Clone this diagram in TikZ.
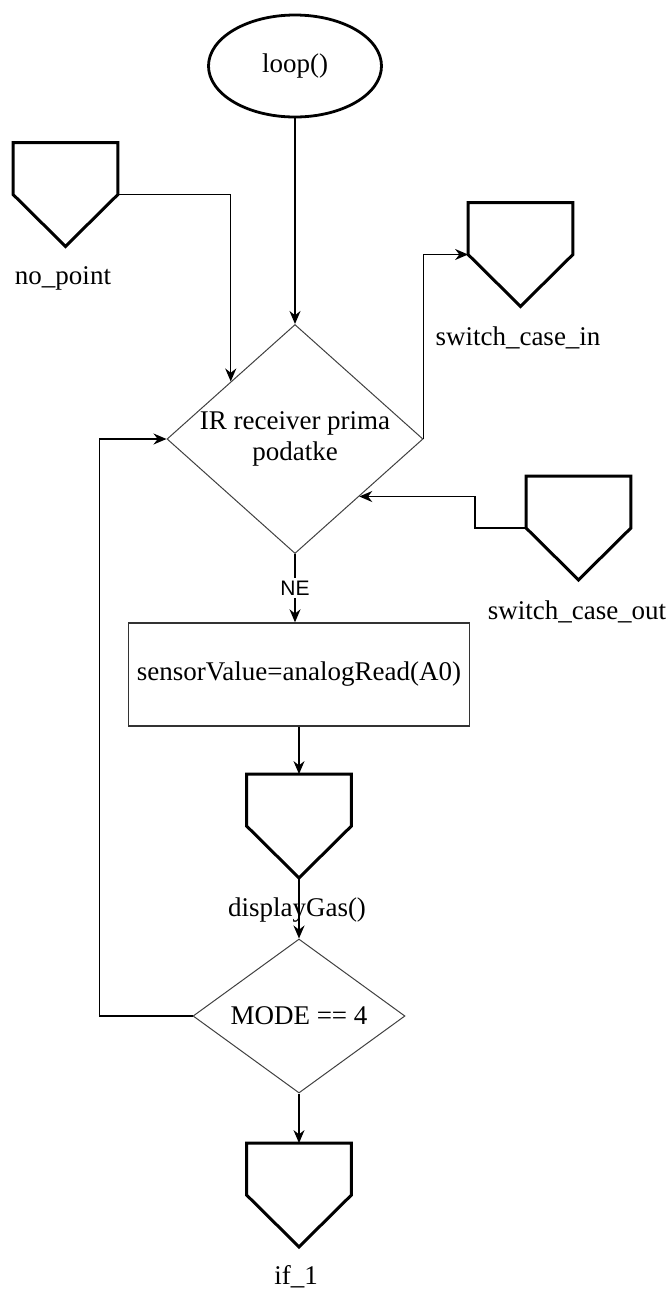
\documentclass[tikz,border=0pt]{standalone}
\usepackage{fontspec}
\setmainfont{Liberation Serif}
\newfontfamily\nefont{Liberation Sans}
\usetikzlibrary{shapes.geometric,arrows.meta}
\tikzset{>={Stealth[length=6.5pt,width=5.5pt]}}
\tikzstyle{terminal}=[ellipse,draw,line width=1.4pt,minimum width=86.5pt,minimum height=51pt,inner sep=0pt]
\tikzstyle{decision}=[diamond,draw=black!75,line width=0.5pt,inner sep=0pt,align=center]
\tikzstyle{process}=[rectangle,draw=black!80,line width=0.7pt,minimum width=170.5pt,minimum height=51.5pt,inner sep=0pt]
\tikzstyle{offpage}=[minimum width=52pt,minimum height=51.5pt,inner sep=0pt]
\tikzstyle{flow}=[->,line width=0.7pt]

\begin{document}
\begin{tikzpicture}[x=0.5pt,y=-0.5pt,font=\fontsize{13.5}{15.5}\selectfont]
\useasboundingbox (0,0) rectangle (672,1292);

\node[terminal] at (295, 66) (loop) {loop()};
\node[offpage] at (65.5, 194.5) (np) {};
\node at (63, 278) (nplab) {no\_point};
\node[offpage] at (520.5, 254.5) (sci) {};
\node at (518, 338) (scilab) {switch\_case\_in};
\node[decision, minimum width=128pt, minimum height=114.5pt, shape aspect=1.12] at (295, 439) (ir) {IR receiver prima\\podatke};
\node[offpage] at (578.5, 528) (sco) {};
\node at (577, 612) (scolab) {switch\_case\_out};
\node[process] at (299, 674.5) (sv) {sensorValue=analogRead(A0)};
\node[offpage] at (299, 826) (dg) {};
\node at (297, 910) (dglab) {displayGas()};
\node[decision, minimum width=106pt, minimum height=77pt, shape aspect=1.38] at (299, 1016) (mode) {MODE == 4};
\node[offpage] at (299, 1195) (ifn) {};
\node at (296, 1277) (iflab) {if\_1};

% off-page connector outlines
\foreach \n in {np, sci, sco, dg, ifn}
  \draw[line width=1.5pt] (\n.north west) -- (\n.north east) -- (\n.east) -- (\n.south) -- (\n.west) -- cycle;

\draw[flow] (loop) -- (ir);
\draw[flow] (np.east) -| (ir.north west);
\draw[flow] (ir.east) |- (sci.west);
\draw[flow] (sco.west) -- ++(-51, 0) |- (ir.south east);
\draw[flow] (ir.south) -- node[fill=white, inner sep=1.5pt, font=\nefont\fontsize{10.5}{12}\selectfont] {NE} (ir.south |- sv.north);
\draw[flow] (sv) -- (dg);
\draw[flow] (dg.south) -- (mode.north);
\draw[flow] (mode.west) -- ++(-93, 0) |- (ir.west);
\draw[flow] (mode) -- (ifn);

\end{tikzpicture}
\end{document}
